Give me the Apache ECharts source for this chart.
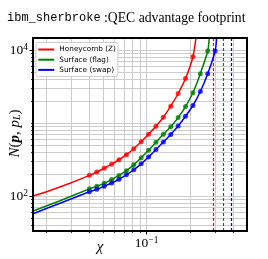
<!DOCTYPE html>
<html><head><meta charset="utf-8">
<script src="https://cdn.jsdelivr.net/npm/echarts@6/dist/echarts.min.js"></script>
<style>html,body{margin:0;padding:0;background:#fff}#c{width:268px;height:259px}</style>
</head><body><div id="c"></div>
<script>
// marker grid of chi values
const chi = [0.04, 0.045033, 0.0507, 0.05708, 0.064262, 0.072348, 0.081452, 0.091701, 0.10324, 0.116231, 0.130856, 0.147322, 0.16586, 0.18673, 0.210226, 0.236679, 0.266461, 0.3];
// N(p, p_L) at the markers
const honeycombN = [192, 213, 240, 273, 314, 368, 445, 553, 700, 901, 1201, 1699, 2536, 4071, 8094];
const flagN = [125.5, 136.2, 149.3, 167.8, 191.5, 222.8, 267.6, 333.7, 422.7, 544, 700.3, 889.7, 1186, 1678, 2601, 4735, 9690];
const swapN = [114.2, 123.9, 135.8, 150.7, 169.9, 195.2, 229.2, 276.1, 342.1, 433.5, 549.2, 698.1, 909.6, 1236, 1737, 2701, 4735, 9690];
// curve values read left of the markers
const honeycombLeftChi = [0.0162, 0.0213, 0.0293], honeycombLeftN = [100, 119.3, 149.7];
const flagLeftChi = [0.0162, 0.025], flagLeftN = [62.3, 86.2];
const swapLeftChi = [0.0162, 0.025], swapLeftN = [57.2, 79.7];
// where each curve leaves the top of the plot
const topChi = [0.2215, 0.2735, 0.3085];
const topN = [15500, 15500, 15500];
// thresholds (dashed verticals)
const thresholds = [0.292, 0.343, 0.388];
// tick / grid values
const xMajor = [0.1];
const xMinor = [0.02, 0.03, 0.04, 0.05, 0.06, 0.07, 0.08, 0.09, 0.2, 0.3, 0.4];
const yLabelled = [100, 10000];
const yMinor = [40, 50, 60, 70, 80, 90, 200, 300, 400, 500, 600, 700, 800, 900, 1000, 2000, 3000, 4000, 5000, 6000, 7000, 8000, 9000];
const names = ['Honeycomb (Z)', 'Surface (flag)', 'Surface (swap)'];

const colors = ['#ff0000', '#008000', '#0000ff'];
const markerN = [honeycombN, flagN, swapN];
const leftChi = [honeycombLeftChi, flagLeftChi, swapLeftChi];
const leftN = [honeycombLeftN, flagLeftN, swapLeftN];

const serif = 'Liberation Serif';
const supFmt = (v) => {
  const e = Math.round(Math.log10(v));
  return '{b|10}{s|' + (e < 0 ? '\u2212' + (-e) : e) + '}';
};
const richLbl = {
  b: {fontFamily: serif, fontSize: 13.5, color: '#000', lineHeight: 16},
  s: {fontFamily: serif, fontSize: 9.5, color: '#000', verticalAlign: 'top', lineHeight: 10}
};

const series = [];
series.push({
  type: 'line', data: [], z: 1, silent: true,
  markLine: {
    z: 1, silent: true, symbol: ['none', 'none'], label: {show: false}, animation: false,
    lineStyle: {color: '#cccccc', width: 1, type: 'solid'},
    emphasis: {disabled: true},
    data: xMajor.concat(xMinor).map(v => ({xAxis: v})).concat(yLabelled.concat(yMinor).map(v => ({yAxis: v})))
  }
});
names.forEach((nm, i) => {
  const n = markerN[i].length;
  const lineData = leftChi[i].map((c, j) => [c, leftN[i][j]])
    .concat(chi.slice(0, n).map((c, j) => [c, markerN[i][j]]))
    .concat([[topChi[i], topN[i]]]);
  series.push({
    name: nm, type: 'line', data: lineData, showSymbol: false, smooth: 0.25,
    lineStyle: {color: colors[i], width: 1.5}, itemStyle: {color: colors[i]}, z: 3, clip: true,
    markLine: {
      z: 2, silent: true, symbol: ['none', 'none'], label: {show: false}, animation: false,
      lineStyle: {color: colors[i], width: 1.2, type: [3, 2]},
      data: [{xAxis: thresholds[i]}]
    }
  });
  series.push({
    type: 'scatter', data: chi.slice(0, n).map((c, j) => [c, markerN[i][j]]),
    symbol: 'circle', symbolSize: 5, itemStyle: {color: colors[i]}, z: 4, clip: true
  });
});

const chart = echarts.init(document.getElementById('c'), null, {renderer: 'canvas', width: 268, height: 259});
chart.setOption({
  animation: false,
  backgroundColor: '#ffffff',
  title: {
    text: '{m|ibm_sherbroke}{t| :QEC advantage footprint}',
    left: 7, top: 11, padding: 0,
    textStyle: {fontWeight: 'normal', rich: {
      m: {fontFamily: 'Liberation Mono', fontSize: 12, fontWeight: 'normal', color: '#000'},
      t: {fontFamily: serif, fontSize: 13.7, fontWeight: 'normal', color: '#000'}
    }}
  },
  grid: {left: 33, right: 21, top: 38, bottom: 28, show: true, borderColor: '#000', borderWidth: 2, backgroundColor: 'transparent', z: 10, containLabel: false},
  legend: {
    z: 8,
    data: names, orient: 'vertical', left: 36, top: 42.5, icon: 'rect', itemWidth: 16, itemHeight: 2,
    itemGap: 2.2, padding: [3, 2, 2.5, 2.3], backgroundColor: 'rgba(255,255,255,0.9)',
    borderColor: '#cccccc', borderWidth: 1, borderRadius: 2, selectedMode: false,
    textStyle: {fontFamily: 'DejaVu Sans', fontSize: 7.3, color: '#000', lineHeight: 8}
  },
  xAxis: [
    {type: 'log', logBase: 10, min: 0.0162, max: 0.5, position: 'bottom',
     axisLine: {show: false}, splitLine: {show: false}, minorTick: {show: false},
     axisTick: {show: true, customValues: xMajor, length: 3.5, lineStyle: {color: '#000', width: 1}},
     axisLabel: {customValues: xMajor, margin: 4, formatter: supFmt, rich: richLbl}},
    {type: 'log', logBase: 10, min: 0.0162, max: 0.5, position: 'bottom',
     axisLine: {show: false}, splitLine: {show: false}, axisLabel: {show: false},
     axisTick: {show: true, customValues: xMinor, length: 2, lineStyle: {color: '#000', width: 0.8}}}
  ],
  yAxis: [
    {type: 'log', logBase: 10, min: 33.2, max: 14600, position: 'left',
     axisLine: {show: false}, splitLine: {show: false}, minorTick: {show: false},
     axisTick: {show: true, customValues: yLabelled, length: 3.5, lineStyle: {color: '#000', width: 1}},
     axisLabel: {customValues: yLabelled, margin: 5, formatter: supFmt, rich: richLbl}},
    {type: 'log', logBase: 10, min: 33.2, max: 14600, position: 'left',
     axisLine: {show: false}, splitLine: {show: false}, axisLabel: {show: false},
     axisTick: {show: true, customValues: yMinor, length: 2, lineStyle: {color: '#000', width: 0.8}}}
  ],
  graphic: [
    {type: 'text', x: 15, y: 133.5, rotation: Math.PI / 2, z: 20,
     style: {text: '{i|N}{r|(}{bi|p}{r|, }{i|p}{sub|L}{r|)}', align: 'center', verticalAlign: 'middle',
       rich: {
         i: {fontFamily: serif, fontStyle: 'italic', fontSize: 15, fill: '#000'},
         r: {fontFamily: serif, fontSize: 15, fill: '#000'},
         bi: {fontFamily: serif, fontStyle: 'italic', fontWeight: 'bold', fontSize: 15, fill: '#000'},
         sub: {fontFamily: serif, fontStyle: 'italic', fontSize: 10, fill: '#000', verticalAlign: 'bottom', lineHeight: 13}
       }}},
    {type: 'text', x: 100, y: 247, z: 20,
     style: {text: '\u03c7', align: 'center', verticalAlign: 'middle', fontFamily: serif, fontStyle: 'italic', fontSize: 15, fill: '#000'}}
  ],
  series: series
});
</script>
</body></html>
